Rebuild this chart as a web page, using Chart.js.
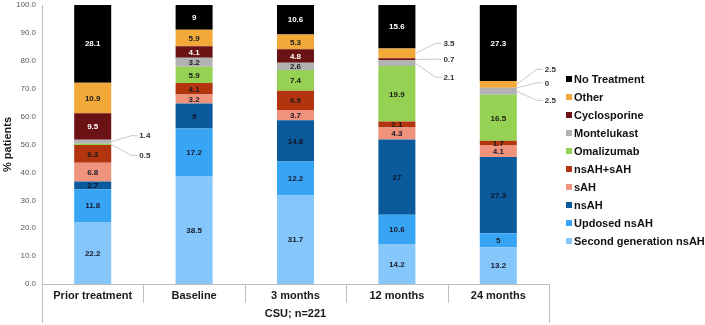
<!DOCTYPE html>
<html>
<head>
<meta charset="utf-8">
<script src="https://cdn.jsdelivr.net/npm/chart.js@4"></script>
<style>
  html, body { margin: 0; padding: 0; background: #fff; }
  #wrap { width: 705px; height: 325px; }
</style>
</head>
<body>
<div id="wrap"><canvas id="csuChart" width="705" height="325"></canvas></div>
<script>
const categories = ['Prior treatment', 'Baseline', '3 months', '12 months', '24 months'];
const secondGen = [22.2, 38.5, 31.7, 14.2, 13.2];
const updosed = [11.8, 17.2, 12.2, 10.6, 5];
const nsAH = [2.7, 9, 14.8, 27, 27.3];
const sAH = [6.8, 3.2, 3.7, 4.3, 4.1];
const nsAHsAH = [6.3, 4.1, 6.9, 2.1, 1.7];
const omalizumab = [0.5, 5.9, 7.4, 19.9, 16.5];
const montelukast = [1.4, 3.2, 2.6, 2.1, 2.5];
const cyclosporine = [9.5, 4.1, 4.8, 0.7, 0];
const other = [10.9, 5.9, 5.3, 3.5, 2.5];
const noTreatment = [28.1, 9, 10.6, 15.6, 27.3];
const yTicks = [0, 10, 20, 30, 40, 50, 60, 70, 80, 90, 100];

const FONT = '"Liberation Sans", Arial, sans-serif';

// small segments labelled outside the bar with a leader line: dataset, category, shift in px
const calloutLabels = [
  { ds: 6, cat: 0, dy: -6 },
  { ds: 5, cat: 0, dy: 11 },
  { ds: 8, cat: 3, dy: -10 },
  { ds: 7, cat: 3, dy: 0 },
  { ds: 6, cat: 3, dy: 14 },
  { ds: 8, cat: 4, dy: -15 },
  { ds: 7, cat: 4, dy: -5 },
  { ds: 6, cat: 4, dy: 9 }
];

function ds(label, data, color, textColor) {
  return { label, data, backgroundColor: color, textColor, borderWidth: 0,
           barPercentage: 0.365, categoryPercentage: 1 };
}

const datasets = [
  ds('Second generation nsAH', secondGen, '#85c6fb', '#1a1a2a'),
  ds('Updosed nsAH', updosed, '#37a4f4', '#1a1a2a'),
  ds('nsAH', nsAH, '#0b5a9c', '#111122'),
  ds('sAH', sAH, '#f0937c', '#1a1a2a'),
  ds('nsAH+sAH', nsAHsAH, '#b3350f', '#1a1a1a'),
  ds('Omalizumab', omalizumab, '#95d152', '#1a1a1a'),
  ds('Montelukast', montelukast, '#b2b2b2', '#1a1a1a'),
  ds('Cyclosporine', cyclosporine, '#6b1214', '#ffffff'),
  ds('Other', other, '#f3a93a', '#1a1a1a'),
  ds('No Treatment', noTreatment, '#000000', '#ffffff')
];

const decorPlugin = {
  id: 'decor',
  afterDatasetsDraw(chart) {
    const ctx = chart.ctx;
    const area = chart.chartArea;
    const x = chart.scales.x;
    ctx.save();

    // category separators below the axis and the outer frame lines
    ctx.strokeStyle = '#bfbfbf';
    ctx.lineWidth = 1;
    const step = (area.right - area.left) / categories.length;
    for (let i = 1; i < categories.length; i++) {
      const px = Math.round(x.getPixelForValue(i) - step / 2) + 0.5;
      ctx.beginPath(); ctx.moveTo(px, area.bottom); ctx.lineTo(px, area.bottom + 19); ctx.stroke();
    }
    [area.left, area.right].forEach(px => {
      ctx.beginPath(); ctx.moveTo(Math.round(px) + 0.5, area.bottom); ctx.lineTo(Math.round(px) + 0.5, area.bottom + 39); ctx.stroke();
    });

    // value labels
    ctx.font = 'bold 8px ' + FONT;
    ctx.textBaseline = 'middle';
    chart.data.datasets.forEach((d, di) => {
      const meta = chart.getDatasetMeta(di);
      meta.data.forEach((bar, ci) => {
        const v = d.data[ci];
        if (!v) return;
        if (calloutLabels.some(c => c.ds === di && c.cat === ci)) return;
        ctx.fillStyle = d.textColor;
        ctx.textAlign = 'center';
        ctx.fillText(String(v), bar.x, (bar.y + bar.base) / 2 + 0.5);
      });
    });

    ctx.strokeStyle = '#c8c8c8';
    calloutLabels.forEach(c => {
      const bar = chart.getDatasetMeta(c.ds).data[c.cat];
      const segY = (bar.y + bar.base) / 2;
      const right = bar.x + bar.width / 2;
      const ly = segY + c.dy;
      ctx.beginPath();
      ctx.moveTo(right, segY);
      ctx.lineTo(right + 20, ly);
      ctx.lineTo(right + 26, ly);
      ctx.stroke();
      ctx.fillStyle = '#333333';
      ctx.textAlign = 'left';
      ctx.fillText(String(chart.data.datasets[c.ds].data[c.cat]), right + 28, ly + 0.5);
    });

    // legend, top item = last dataset
    ctx.font = 'bold 11px ' + FONT;
    ctx.textAlign = 'left';
    const lx = area.right + 17;
    let ly = 79;
    for (let i = chart.data.datasets.length - 1; i >= 0; i--) {
      const d = chart.data.datasets[i];
      ctx.fillStyle = d.backgroundColor;
      ctx.fillRect(lx, ly - 3, 6, 6);
      ctx.fillStyle = '#111111';
      ctx.fillText(d.label, lx + 8, ly + 0.5);
      ly += 18;
    }
    ctx.restore();
  }
};

new Chart(document.getElementById('csuChart'), {
  type: 'bar',
  data: { labels: categories, datasets },
  options: {
    responsive: false,
    animation: false,
    layout: { padding: { top: 0, right: 156, left: 0, bottom: 0 } },
    plugins: {
      legend: { display: false },
      tooltip: { enabled: false }
    },
    scales: {
      x: {
        stacked: true,
        afterFit: s => { s.height = 41; },
        grid: { display: false, drawTicks: false },
        border: { color: '#bfbfbf' },
        ticks: { padding: 5, color: '#1a1a1a', font: { family: FONT, size: 11, weight: 'bold' } },
        title: { display: true, text: 'CSU; n=221', color: '#1a1a1a',
                 font: { family: FONT, size: 11, weight: 'bold' }, padding: { top: 0, bottom: 4 } }
      },
      y: {
        stacked: true,
        min: 0,
        max: 100,
        afterFit: s => { s.width = 42; s.paddingTop = 5; },
        afterBuildTicks: s => { s.ticks = yTicks.map(v => ({ value: v })); },
        grid: { display: false, drawTicks: false },
        border: { color: '#bfbfbf' },
        ticks: { padding: 6, color: '#595959', font: { family: FONT, size: 8 },
                 callback: v => Number(v).toFixed(1) },
        title: { display: true, text: '% patients', color: '#1a1a1a',
                 font: { family: FONT, size: 11, weight: 'bold' }, padding: { top: 1, bottom: 0 } }
      }
    }
  },
  plugins: [decorPlugin]
});
</script>
</body>
</html>
